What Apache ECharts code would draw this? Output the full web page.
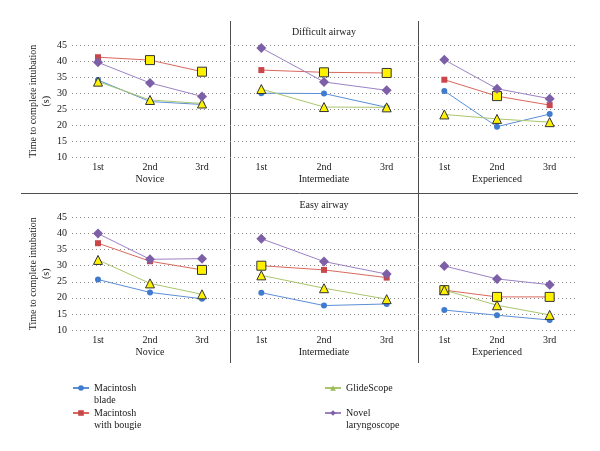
<!DOCTYPE html>
<html>
<head>
<meta charset="utf-8">
<script src="https://cdn.jsdelivr.net/npm/echarts@6/dist/echarts.min.js"></script>
<style>
  html, body { margin: 0; padding: 0; background: #fff; }
  #chart { width: 600px; height: 451px; }
</style>
</head>
<body>
<div id="chart"></div>
<script>
  // categories
  var attempts = ['1st', '2nd', '3rd'];
  var levels = ['Novice', 'Intermediate', 'Experienced'];
  var yTicks = [10, 45, 5]; // min, max, step

  // difficult airway: one row per level (Novice, Intermediate, Experienced)
  var difficultBlade  = [[34.1, 27.4, 26.5], [30.0, 29.9, 25.6], [30.7, 19.6, 23.5]];
  var difficultBougie = [[41.2, 40.3, 36.7], [37.2, 36.5, 36.3], [34.2, 29.1, 26.3]];
  var difficultGlide  = [[33.6, 27.9, 26.8], [31.3, 25.7, 25.6], [23.4, 22.0, 21.0]];
  var difficultNovel  = [[39.6, 33.2, 29.0], [44.1, 33.5, 30.9], [40.4, 31.4, 28.3]];
  var difficultBougieMarked = [[0, 1, 1], [0, 1, 1], [0, 1, 0]];

  // easy airway
  var easyBlade  = [[25.7, 21.7, 19.7], [21.6, 17.6, 18.1], [16.2, 14.6, 13.1]];
  var easyBougie = [[37.0, 31.4, 28.7], [30.0, 28.7, 26.3], [22.4, 20.3, 20.3]];
  var easyGlide  = [[31.8, 24.5, 21.1], [27.0, 23.0, 19.6], [22.4, 17.7, 14.7]];
  var easyNovel  = [[40.0, 32.0, 32.2], [38.4, 31.3, 27.4], [29.9, 25.9, 24.1]];
  var easyBougieMarked = [[0, 0, 1], [1, 0, 0], [1, 1, 1]];

  var names = ['Macintosh\nblade', 'Macintosh\nwith bougie', 'GlideScope', 'Novel\nlaryngoscope'];

  var FONT = '"Liberation Serif", "DejaVu Serif", serif';
  var TXT = '#1a1718';
  var yellowMark = { color: '#fff200', borderColor: '#333', borderWidth: 1 };

  var chart = echarts.init(document.getElementById('chart'));

  // panel layout
  var colLeft = [72, 230, 418];
  var colWidth = [156, 188, 158];
  var rowTop = [45, 217.5];
  var rowHeight = 112.5;

  var grids = [], xAxes = [], yAxes = [], series = [];

  var rows = [
    { blade: difficultBlade, bougie: difficultBougie, glide: difficultGlide, novel: difficultNovel, marked: difficultBougieMarked },
    { blade: easyBlade, bougie: easyBougie, glide: easyGlide, novel: easyNovel, marked: easyBougieMarked }
  ];

  rows.forEach(function (row, r) {
    for (var c = 0; c < 3; c++) {
      var idx = grids.length;
      grids.push({ left: colLeft[c], top: rowTop[r], width: colWidth[c], height: rowHeight });
      xAxes.push({
        type: 'category', gridIndex: idx, data: attempts,
        name: levels[c], nameLocation: 'middle', nameGap: 17,
        nameTextStyle: { fontFamily: FONT, fontSize: 10, color: TXT },
        axisLine: { show: false }, axisTick: { show: false },
        axisLabel: { fontFamily: FONT, fontSize: 10, color: TXT, margin: 5 }
      });
      yAxes.push({
        type: 'value', gridIndex: idx, min: yTicks[0], max: yTicks[1], interval: yTicks[2],
        name: c === 0 ? 'Time to complete intubation\n(s)' : '',
        nameLocation: 'middle', nameGap: 14, nameRotate: 90,
        nameTextStyle: { fontFamily: FONT, fontSize: 10, color: TXT, lineHeight: 13 },
        axisLine: { show: false }, axisTick: { show: false },
        axisLabel: { show: c === 0, fontFamily: FONT, fontSize: 10, color: TXT, margin: 5 },
        splitLine: { show: true, lineStyle: { color: '#8a8a8a', width: 1, type: [1, 3] } }
      });

      series.push({
        name: names[0], type: 'line', xAxisIndex: idx, yAxisIndex: idx,
        data: row.blade[c], symbol: 'circle', symbolSize: 6,
        lineStyle: { color: '#5b8fd6', width: 1 }, itemStyle: { color: '#3f7bcf' }
      });
      series.push({
        name: names[1], type: 'line', xAxisIndex: idx, yAxisIndex: idx,
        data: row.bougie[c].map(function (v, i) {
          return row.marked[c][i] ? { value: v, symbolSize: 9, itemStyle: yellowMark } : v;
        }),
        symbol: 'rect', symbolSize: 6,
        lineStyle: { color: '#d9685c', width: 1 }, itemStyle: { color: '#c9474a' }
      });
      series.push({
        name: names[2], type: 'line', xAxisIndex: idx, yAxisIndex: idx,
        data: row.glide[c].map(function (v) {
          return { value: v, itemStyle: yellowMark };
        }),
        symbol: 'triangle', symbolSize: 9,
        lineStyle: { color: '#a9c66e', width: 1 }, itemStyle: { color: '#9bbb59' }
      });
      series.push({
        name: names[3], type: 'line', xAxisIndex: idx, yAxisIndex: idx,
        data: row.novel[c], symbol: 'diamond', symbolSize: 10,
        lineStyle: { color: '#9c82c4', width: 1 }, itemStyle: { color: '#7d5fa8' }
      });
    }
  });

  // two-line names: an empty first line keeps the icon level with the first word
  function legendAt(name, left, top, twoLines) {
    return {
      data: [name], left: left, top: top, orient: 'vertical', padding: 0,
      itemWidth: 16, itemHeight: 7,
      formatter: twoLines ? function (n) { return ' \n' + n; } : '{name}',
      textStyle: { fontFamily: FONT, fontSize: 10, color: TXT, lineHeight: 12 }
    };
  }

  var sep = { stroke: '#4d4d4d', lineWidth: 1 };

  chart.setOption({
    animation: false,
    backgroundColor: '#fff',
    grid: grids,
    xAxis: xAxes,
    yAxis: yAxes,
    series: series,
    legend: [
      legendAt(names[0], 72, 370, true),
      legendAt(names[1], 72, 395, true),
      legendAt(names[2], 324, 382, false),
      legendAt(names[3], 324, 395, true)
    ],
    graphic: [
      { type: 'line', shape: { x1: 230.5, y1: 21, x2: 230.5, y2: 363 }, style: sep },
      { type: 'line', shape: { x1: 418.5, y1: 21, x2: 418.5, y2: 363 }, style: sep },
      { type: 'line', shape: { x1: 21, y1: 193.5, x2: 578, y2: 193.5 }, style: sep },
      { type: 'text', x: 324, y: 32, style: { text: 'Difficult airway', font: '10px ' + FONT, fill: TXT, textAlign: 'center', textVerticalAlign: 'middle' } },
      { type: 'text', x: 324, y: 205, style: { text: 'Easy airway', font: '10px ' + FONT, fill: TXT, textAlign: 'center', textVerticalAlign: 'middle' } }
    ]
  });
</script>
</body>
</html>
